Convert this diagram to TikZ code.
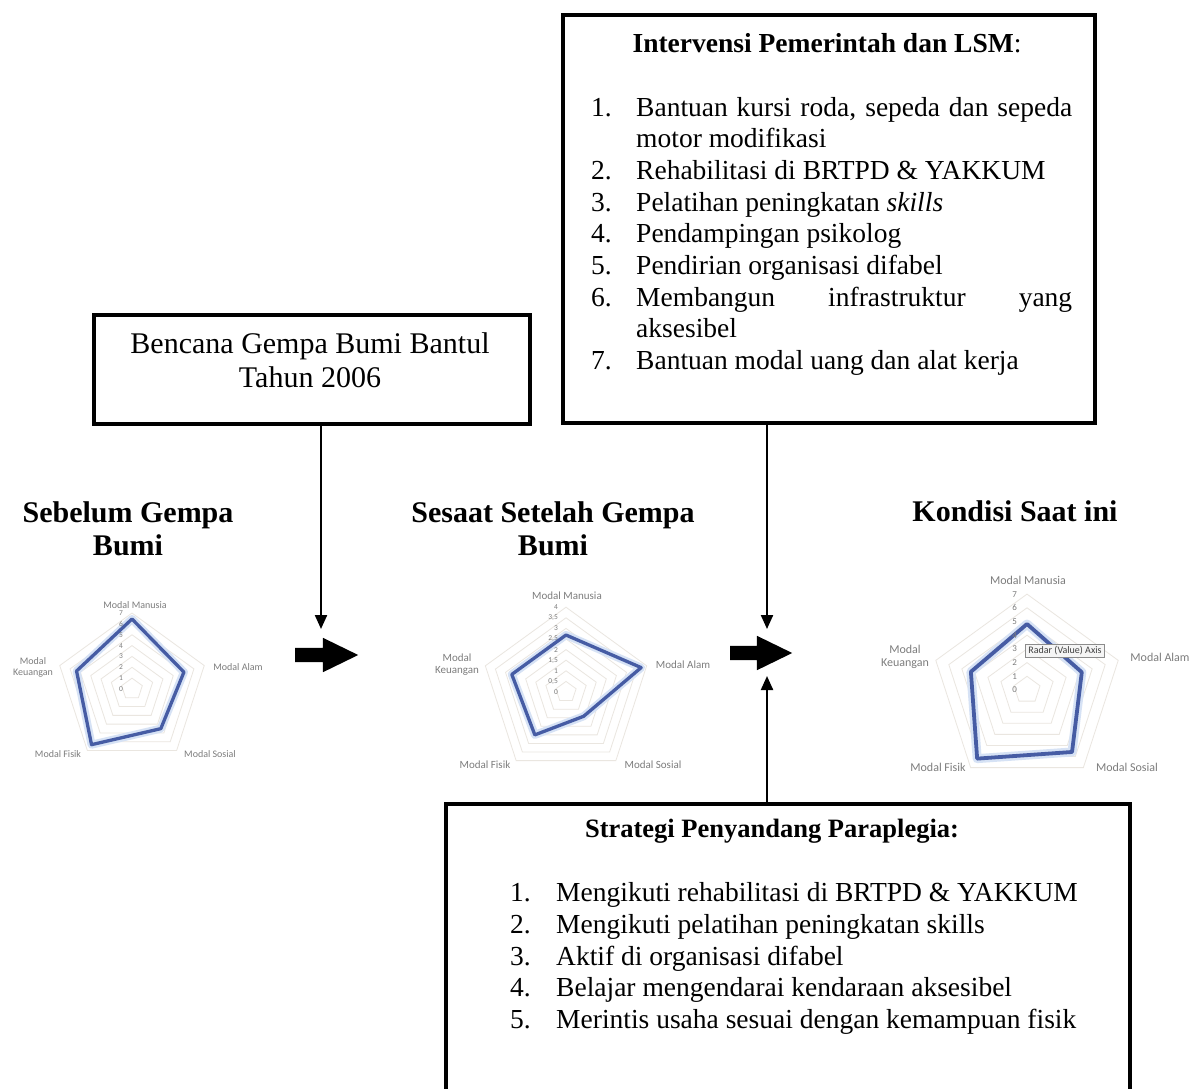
\documentclass[tikz,border=0pt]{standalone}
\usepackage{fontspec}
\setmainfont{Liberation Serif}
\newfontfamily\chartfont{Carlito}
\usetikzlibrary{arrows.meta,shapes.arrows}
\definecolor{serieblue}{RGB}{70,92,164}
\definecolor{glowblue}{RGB}{214,226,245}
\definecolor{gridc}{RGB}{234,230,224}
\definecolor{labgray}{RGB}{125,125,125}
\begin{document}
\begin{tikzpicture}[x=1pt,y=-1pt,
  box/.style={draw, line width=3.5pt, inner sep=0, anchor=north west},
  lt/.style={anchor=base west, inner sep=0, font=\fontsize{27.5}{32}\selectfont},
  ct/.style={anchor=base, inner sep=0, font=\fontsize{30}{34}\selectfont},
  hd/.style={anchor=base, inner sep=0, font=\fontsize{30}{34}\selectfont\bfseries},
  conn/.style={line width=2.2pt, -{Triangle[length=14pt,width=12pt]}},
  bigarrow/.style={single arrow, fill=black, draw=none, inner xsep=0pt, inner ysep=7pt,
     single arrow head extend=10pt, single arrow tip angle=52, minimum height=63pt, anchor=tail},
  gridl/.style={draw=gridc, line width=0.8pt},
  glow/.style={draw=glowblue, line width=8pt, line join=round},
  serie/.style={draw=serieblue, line width=3.3pt, line join=round},
  axl/.style={inner sep=0, text=labgray, align=center, font=\chartfont\fontsize{10}{11}\selectfont},
  axlb/.style={axl, font=\chartfont\fontsize{11}{12}\selectfont},
  axlc/.style={axl, font=\chartfont\fontsize{12}{13.5}\selectfont},
  tick/.style={inner sep=0, anchor=east, text=labgray, font=\chartfont\fontsize{7.5}{8}\selectfont},
  tickc/.style={tick, font=\chartfont\fontsize{9}{10}\selectfont}]
\useasboundingbox (0,0) rectangle (1190,1088);
\clip (0,0) rectangle (1190,1088);
\fill[white] (0,0) rectangle (1190,1088);

% ---------- boxes ----------
\node[box, minimum width=532pt, minimum height=408pt] (topbox) at (561,13) {};
\node[box, minimum width=436pt, minimum height=109pt] (leftbox) at (92,313) {};
\node[box, minimum width=684pt, minimum height=300pt] (botbox) at (444,802) {};

% ---------- top box text ----------
\node[lt, anchor=base, font=\fontsize{27.5}{32}\selectfont] (ttitle) at (827,52) {\textbf{Intervensi Pemerintah dan LSM}:};
\node[lt] (tn1) at (591,116) {1.};
\node[lt] (tl1) at (636,116) {\makebox[436pt][s]{Bantuan kursi roda, sepeda dan sepeda}};
\node[lt] (tl1b) at (636,147.7) {motor modifikasi};
\node[lt] (tn2) at (591,179.4) {2.};
\node[lt] (tl2) at (636,179.4) {Rehabilitasi di BRTPD \& YAKKUM};
\node[lt] (tn3) at (591,211.1) {3.};
\node[lt] (tl3) at (636,211.1) {Pelatihan peningkatan \textit{skills}};
\node[lt] (tn4) at (591,242.8) {4.};
\node[lt] (tl4) at (636,242.8) {Pendampingan psikolog};
\node[lt] (tn5) at (591,274.5) {5.};
\node[lt] (tl5) at (636,274.5) {Pendirian organisasi difabel};
\node[lt] (tn6) at (591,306.2) {6.};
\node[lt] (tl6) at (636,306.2) {\makebox[436pt][s]{Membangun infrastruktur yang}};
\node[lt] (tl6b) at (636,337.9) {aksesibel};
\node[lt] (tn7) at (591,369.6) {7.};
\node[lt] (tl7) at (636,369.6) {Bantuan modal uang dan alat kerja};

% ---------- left box text ----------
\node[ct] (lb1) at (310,353) {Bencana Gempa Bumi Bantul};
\node[ct] (lb2) at (310,387) {Tahun 2006};

% ---------- headings ----------
\node[hd] (h1a) at (128,522) {Sebelum Gempa};
\node[hd] (h1b) at (128,555) {Bumi};
\node[hd] (h2a) at (553,522) {Sesaat Setelah Gempa};
\node[hd] (h2b) at (553,555) {Bumi};
\node[hd] (h3a) at (1015,521) {Kondisi Saat ini};

% ---------- bottom box text ----------
\node[lt, anchor=base, font=\fontsize{26.5}{31}\selectfont\bfseries] (btitle) at (772,837) {Strategi Penyandang Paraplegia:};
\node[lt] (bn1) at (510,901) {1.};
\node[lt] (bl1) at (556,901) {Mengikuti rehabilitasi di BRTPD \& YAKKUM};
\node[lt] (bn2) at (510,933) {2.};
\node[lt] (bl2) at (556,933) {Mengikuti pelatihan peningkatan skills};
\node[lt] (bn3) at (510,965) {3.};
\node[lt] (bl3) at (556,965) {Aktif di organisasi difabel};
\node[lt] (bn4) at (510,996.5) {4.};
\node[lt] (bl4) at (556,996.5) {Belajar mengendarai kendaraan aksesibel};
\node[lt] (bn5) at (510,1028) {5.};
\node[lt] (bl5) at (556,1028) {Merintis usaha sesuai dengan kemampuan fisik};

% ---------- connectors ----------
\coordinate (tip1) at (321,629);
\coordinate (tip2) at (767,629);
\coordinate (tip3) at (767,676);
\draw[conn] (leftbox.south -| tip1) -- (tip1);
\draw[conn] (topbox.south -| tip2) -- (tip2);
\draw[conn] (botbox.north -| tip3) -- (tip3);
\node[bigarrow] (arrA) at (295,655) {};
\node[bigarrow, minimum height=62pt] (arrB) at (730,653) {};

% ---------- radar chart 1 ----------
\begin{scope}[shift={(132,689)}]
  \foreach \k in {1,...,7}
    \draw[gridl] (-90:{\k*10.85}) -- (-18:{\k*10.85}) -- (54:{\k*10.85}) -- (126:{\k*10.85}) -- (198:{\k*10.85}) -- cycle;
  \draw[glow] (-90:70) -- (-18:54.6) -- (54:49) -- (126:68.8) -- (198:58.3) -- cycle;
  \draw[serie] (-90:70) -- (-18:54.6) -- (54:49) -- (126:68.8) -- (198:58.3) -- cycle;
  \foreach \v in {0,...,7}
    \node[tick] (ca\v) at (-9,{-\v*10.85}) {\v};
\end{scope}
\node[axl] (caM) at (135,605) {Modal Manusia};
\node[axl] (caA) at (238,667) {Modal Alam};
\node[axl] (caS) at (210,754) {Modal Sosial};
\node[axl] (caF) at (58,754) {Modal Fisik};
\node[axl] (caK) at (33,667) {Modal\\Keuangan};

% ---------- radar chart 2 ----------
\begin{scope}[shift={(566,692)}]
  \foreach \k in {1,...,8}
    \draw[gridl] (-90:{\k*10.6}) -- (-18:{\k*10.6}) -- (54:{\k*10.6}) -- (126:{\k*10.6}) -- (198:{\k*10.6}) -- cycle;
  \draw[glow] (-90:57) -- (-18:79) -- (54:30) -- (126:53) -- (198:57) -- cycle;
  \draw[serie] (-90:57) -- (-18:79) -- (54:30) -- (126:53) -- (198:57) -- cycle;
  \foreach \k/\lab in {0/0,1/{0,5},2/1,3/{1,5},4/2,5/{2,5},6/3,7/{3,5},8/4}
    \node[tick] (cb\k) at (-8,{-\k*10.6}) {\lab};
\end{scope}
\node[axlb] (cbM) at (567,596) {Modal Manusia};
\node[axlb] (cbA) at (683,665) {Modal Alam};
\node[axlb] (cbS) at (653,765) {Modal Sosial};
\node[axlb] (cbF) at (485,765) {Modal Fisik};
\node[axlb] (cbK) at (457,665) {Modal\\Keuangan};

% ---------- radar chart 3 ----------
\begin{scope}[shift={(1027,690)}]
  \foreach \k in {1,...,7}
    \draw[gridl] (-90:{\k*13.7}) -- (-18:{\k*13.7}) -- (54:{\k*13.7}) -- (126:{\k*13.7}) -- (198:{\k*13.7}) -- cycle;
  \draw[glow, line width=9pt] (-90:66) -- (-18:57.6) -- (54:76.6) -- (126:84.8) -- (198:59) -- cycle;
  \draw[serie, line width=3.8pt] (-90:66) -- (-18:57.6) -- (54:76.6) -- (126:84.8) -- (198:59) -- cycle;
  \foreach \v in {0,...,7}
    \node[tickc] (cc\v) at (-10,{-\v*13.7}) {\v};
\end{scope}
\node[axlc] (ccM) at (1028,580) {Modal Manusia};
\node[axlc] (ccA) at (1160,657) {Modal Alam};
\node[axlc] (ccS) at (1127,767) {Modal Sosial};
\node[axlc] (ccF) at (938,767) {Modal Fisik};
\node[axlc] (ccK) at (905,657) {Modal\\Keuangan};
\node[draw=black!45, fill=black!4, line width=0.6pt, inner xsep=3pt, inner ysep=2pt,
      text=black!75, font=\chartfont\fontsize{10}{11}\selectfont] (vtip) at (1065,650.5) {Radar (Value) Axis};
\end{tikzpicture}
\end{document}
